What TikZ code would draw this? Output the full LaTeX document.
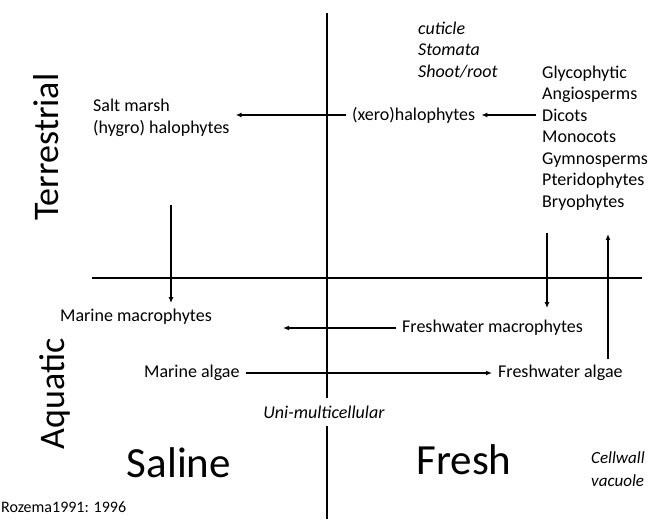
\documentclass[tikz,border=0pt]{standalone}
\usepackage{fontspec}
\setmainfont{Carlito}
\usetikzlibrary{positioning, arrows.meta}

\begin{document}
\begin{tikzpicture}[
    x=1pt, y=-1pt,
    node distance=0.3cm,
    taxon/.style={font=\fontsize{18}{21.5}\selectfont, align=left, inner sep=6pt},
    note/.style={font=\fontsize{18}{21.5}\selectfont\itshape, align=left, inner sep=6pt},
    realm/.style={font=\fontsize{36}{40}\selectfont, rotate=90},
    zone/.style={font=\fontsize{43}{48}\selectfont},
    arrow/.style={-{Latex[length=6pt, width=5pt]}, line width=1.4pt},
    line/.style={line width=1.4pt},
]
    \useasboundingbox (0,0) rectangle (649,521);

%% AXES
    \draw[line] (327,13) -- (327,519);
    \draw[line] (92,278) -- (642,278);

%% NODES
    % terrestrial
    \node[realm] (terrestrial) at (46,147) {Terrestrial};
    \node[taxon, anchor=west] (saltmarsh) at (87,118) {Salt marsh\\(hygro) halophytes};
    \node[taxon, anchor=west] (xero) at (346,115) {(xero)halophytes};
    \node[note, anchor=west] (traits_land) at (412,50) {cuticle\\Stomata\\Shoot/root};
    \node[taxon, anchor=west] (glyco) at (536,138) {Glycophytic\\Angiosperms\\Dicots\\Monocots\\Gymnosperms\\Pteridophytes\\Bryophytes};

    % aquatic
    \node[realm] (aquatic) at (55,394) {Aquatic};
    \node[taxon, anchor=west] (marmacro) at (54,317) {Marine macrophytes};
    \node[taxon, anchor=west] (fwmacro) at (396,328) {Freshwater macrophytes};
    \node[taxon, anchor=west] (maralgae) at (138,373) {Marine algae};
    \node[taxon, anchor=west] (fwalgae) at (492,373) {Freshwater algae};

    % saline / fresh
    \node[zone] (saline) at (179,463) {Saline};
    \node[zone] (fresh) at (464,460) {Fresh};
    \node[note, fill=white, inner ysep=8pt] (unimulti) at (324,412) {Uni-multicellular};
    \node[note, anchor=west, inner sep=0pt, font=\fontsize{17}{23}\selectfont\itshape] (traits_water) at (591,469) {Cellwall\\vacuole};

    % source
    \node[font=\fontsize{16}{19}\selectfont, anchor=west, inner sep=0pt] (source) at (1,507) {Rozema1991: 1996};

%% CONNECTIONS
    \coordinate (salt_down) at (171,205);
    \coordinate (fwmacro_end) at (283,328);
    \coordinate (glyco_down) at (547,233);
    \coordinate (glyco_up) at (608,234);

    % glycophytes -> xerohalophytes -> salt marsh
    \draw[arrow] (glyco.west |- xero.east) -- (xero.east);
    \draw[arrow] (xero.west) -- (saltmarsh.east |- xero.west);

    % land -> water
    \draw[arrow] (salt_down) -- (salt_down |- marmacro.north);
    \draw[arrow, shorten >=6pt] (glyco_down) -- (glyco_down |- fwmacro.north);

    % freshwater macrophytes -> marine side
    \draw[arrow] (fwmacro.west) -- (fwmacro_end);

    % marine algae -> freshwater algae -> land
    \draw[arrow] (maralgae.east) -- (fwalgae.west);
    \draw[arrow] (fwalgae.north -| glyco_up) -- (glyco_up);

\end{tikzpicture}
\end{document}
